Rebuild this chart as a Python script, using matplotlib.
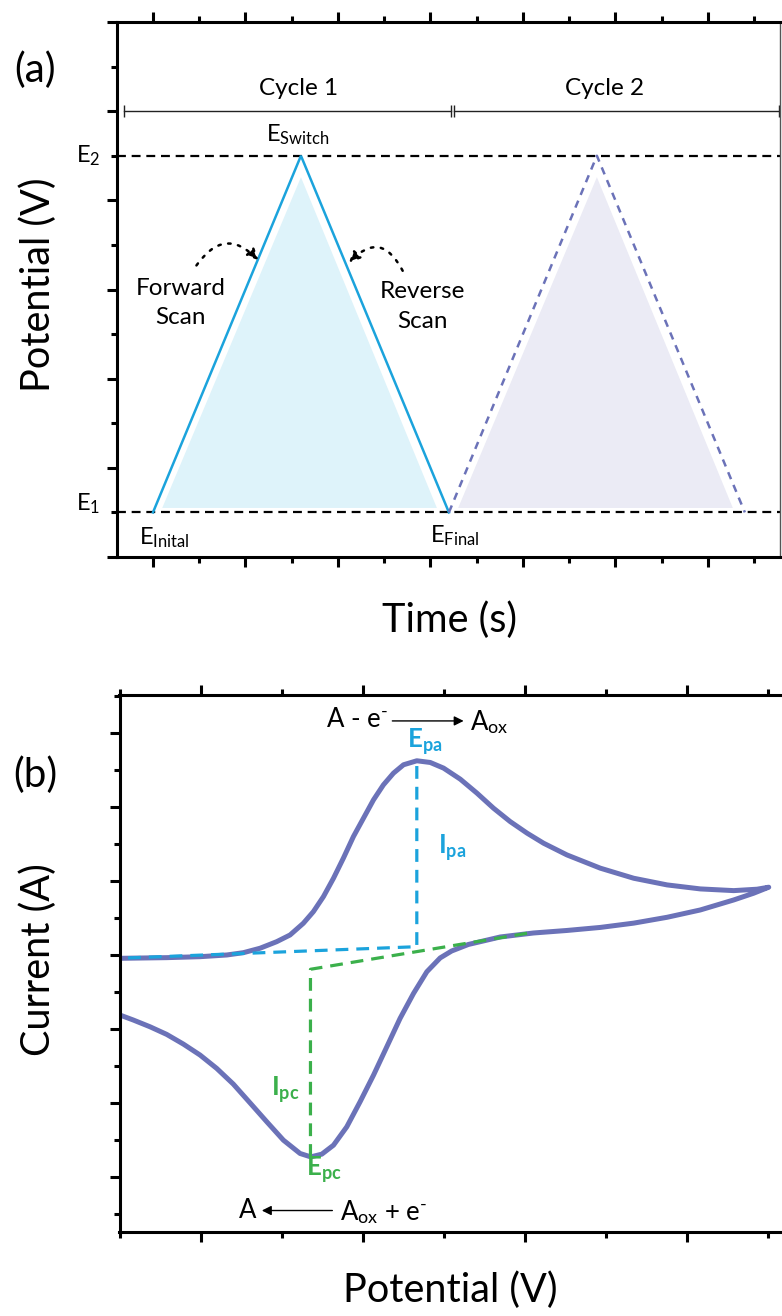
import numpy as np
import matplotlib
matplotlib.use("Agg")
import matplotlib.pyplot as plt
from matplotlib.ticker import MultipleLocator, NullFormatter

plt.rcParams['font.family'] = ['Lato', 'DejaVu Sans']
plt.rcParams['mathtext.fontset'] = 'custom'
plt.rcParams['mathtext.rm'] = 'Lato'
plt.rcParams['mathtext.it'] = 'Lato:italic'
plt.rcParams['mathtext.bf'] = 'Lato:bold'

# ---- (a) potential waveform ----
cycle_t = [0.0, 1.6, 3.2]          # cycle 1: E1 -> E2 -> E1
cycle2_t = [3.2, 4.8, 6.4]         # cycle 2
cycle_e = [0.5, 4.5, 0.5]
fill1_t = [0.1, 1.6, 3.07]
fill2_t = [3.3, 4.8, 6.27]
fill_e = [0.55, 4.26, 0.55]
E1, E2 = 0.5, 4.5

# ---- (b) cyclic voltammogram (forward then reverse branch) ----
fwd_v = [-0.5, -0.212, -0.006, 0.159, 0.261, 0.364, 0.467, 0.549, 0.631,
         0.693, 0.755, 0.817, 0.878, 0.94, 1.002, 1.064, 1.125, 1.187, 1.249,
         1.331, 1.414, 1.496, 1.599, 1.702, 1.804, 1.907, 2.011, 2.113, 2.257,
         2.463, 2.669, 2.875, 3.08, 3.286, 3.43, 3.502]
fwd_i = [0.955, 0.964, 0.977, 1.0, 1.031, 1.091, 1.18, 1.27, 1.428,
         1.585, 1.788, 2.036, 2.307, 2.599, 2.847, 3.095, 3.297, 3.455, 3.568,
         3.622, 3.599, 3.523, 3.374, 3.185, 2.982, 2.801, 2.645, 2.509, 2.351,
         2.172, 2.036, 1.946, 1.892, 1.869, 1.888, 1.915]
rev_v = [3.502, 3.409, 3.286, 3.08, 2.875, 2.669, 2.463, 2.257, 2.051, 1.846,
         1.649, 1.546, 1.475, 1.393, 1.311, 1.228, 1.146, 1.064, 0.981, 0.899,
         0.817, 0.745, 0.677, 0.611, 0.508, 0.406, 0.302, 0.199, 0.097,
         -0.006, -0.109, -0.212, -0.315, -0.418, -0.5]
rev_i = [1.915, 1.834, 1.743, 1.608, 1.509, 1.43, 1.372, 1.331, 1.297, 1.243,
         1.142, 1.054, 0.96, 0.774, 0.482, 0.145, -0.239, -0.622, -0.982, -1.32,
         -1.568, -1.689, -1.726, -1.68, -1.5, -1.253, -0.996, -0.743, -0.532,
         -0.351, -0.203, -0.072, 0.031, 0.122, 0.189]
epa_v, epa_i, ipa_base = 1.331, 3.622, 1.112
epc_v, epc_i, ipc_base = 0.675, -1.726, 0.807
anodic_base_v = [-0.45, epa_v]
anodic_base_i = [0.96, ipa_base]
cathodic_base_v = [epc_v, 2.011]
cathodic_base_i = [ipc_base, 1.293]

cyan = '#1ba3dc'
slate = '#6b72b8'
green = '#3bb04b'

fig = plt.figure(figsize=(7.82, 13.16), dpi=100)


def style_axes(ax):
    for s in ['left', 'top', 'bottom']:
        ax.spines[s].set_linewidth(2.2)
    ax.tick_params(which='both', direction='out', width=2.2,
                   top=True, bottom=True, left=True, right=False,
                   labelbottom=False, labelleft=False)
    ax.tick_params(which='major', length=7.5)
    ax.tick_params(which='minor', length=4)
    ax.xaxis.set_minor_formatter(NullFormatter())
    ax.yaxis.set_minor_formatter(NullFormatter())


# panel (a)
ax1 = fig.add_axes([117 / 782, 1 - 557 / 1316, 663 / 782, 535 / 1316])
style_axes(ax1)
ax1.spines['right'].set_linewidth(1.0)
ax1.spines['right'].set_color('#555555')
ax1.set_xlim(-0.389, 6.78)
ax1.set_ylim(0, 6)
ax1.xaxis.set_major_locator(MultipleLocator(1))
ax1.xaxis.set_minor_locator(MultipleLocator(0.5))
ax1.yaxis.set_major_locator(MultipleLocator(1))
ax1.yaxis.set_minor_locator(MultipleLocator(0.5))

ax1.fill(fill1_t, fill_e, color='#def3fa', lw=0)
ax1.fill(fill2_t, fill_e, color='#ebebf5', lw=0)
ax1.axhline(E2, color='k', lw=1.6, ls=(0, (4, 2.6)))
ax1.axhline(E1, color='k', lw=1.6, ls=(0, (4, 2.6)))
ax1.plot(cycle_t, cycle_e, color=cyan, lw=1.8, solid_joinstyle='miter')
ax1.plot(cycle2_t, cycle_e, color=slate, lw=1.8, ls=(0, (3, 2.5)))

# cycle brackets
for x0, x1, lab, xc in [(-0.31, 3.22, 'Cycle 1', 1.57), (3.26, 6.77, 'Cycle 2', 4.88)]:
    ax1.plot([x0, x1], [5.0, 5.0], color='#222222', lw=1.0,
             marker='|', ms=9, mew=1.0)
    ax1.text(xc, 5.25, lab, fontsize=17.5, ha='center', va='center')

ax1.text(1.57, 4.74, r'E$_{\mathrm{Switch}}$', fontsize=17, ha='center', va='center')
ax1.text(0.12, 0.22, r'E$_{\mathrm{Inital}}$', fontsize=17, ha='center', va='center')
ax1.text(3.26, 0.24, r'E$_{\mathrm{Final}}$', fontsize=17, ha='center', va='center')
ax1.text(-0.57, E2, r'E$_2$', fontsize=17, ha='right', va='center')
ax1.text(-0.57, E1 + 0.1, r'E$_1$', fontsize=17, ha='right', va='center')
ax1.text(0.3, 2.85, 'Forward\nScan', fontsize=17.5, ha='center', va='center',
         linespacing=1.5)
ax1.text(2.91, 2.81, 'Reverse\nScan', fontsize=17.5, ha='center', va='center',
         linespacing=1.5)

# dotted curved arrows pointing to each scan
ax1.annotate('', xy=(1.14, 3.33), xytext=(0.47, 3.27),
             arrowprops=dict(arrowstyle='-|>', connectionstyle='arc3,rad=-0.6',
                             color='k', lw=1.8, ls=(0, (1, 3)),
                             mutation_scale=16, shrinkA=0, shrinkB=0))
ax1.annotate('', xy=(2.12, 3.30), xytext=(2.7, 3.21),
             arrowprops=dict(arrowstyle='-|>', connectionstyle='arc3,rad=0.7',
                             color='k', lw=1.8, ls=(0, (1, 3)),
                             mutation_scale=16, shrinkA=0, shrinkB=0))

fig.text(35 / 782, 1 - 70 / 1316, '(a)', fontsize=29, ha='center', va='center')
fig.text(38 / 782, 1 - 285 / 1316, 'Potential (V)', fontsize=28.5,
         rotation=90, ha='center', va='center')
fig.text(450 / 782, 1 - 620 / 1316, 'Time (s)', fontsize=28.5, ha='center', va='center')

# panel (b)
ax2 = fig.add_axes([119.5 / 782, 1 - 1232 / 1316, 670 / 782, 537 / 1316])
style_axes(ax2)
ax2.spines['right'].set_visible(False)
ax2.set_xlim(-0.503, 3.63)
ax2.set_ylim(-2.74, 4.51)
ax2.xaxis.set_major_locator(MultipleLocator(1))
ax2.xaxis.set_minor_locator(MultipleLocator(0.5))
ax2.yaxis.set_major_locator(MultipleLocator(1))
ax2.yaxis.set_minor_locator(MultipleLocator(0.5))

ax2.plot(fwd_v + rev_v[1:], fwd_i + rev_i[1:], color=slate, lw=3.6,
         solid_joinstyle='round', zorder=2)
ax2.plot(anodic_base_v + [epa_v], anodic_base_i + [epa_i], color=cyan,
         lw=2.3, ls=(0, (4, 2.5)), zorder=3)
ax2.plot([epc_v] + cathodic_base_v, [epc_i] + cathodic_base_i, color=green,
         lw=2.3, ls=(0, (4, 2.5)), zorder=3)

ax2.text(epa_v + 0.05, epa_i + 0.26, r'$\mathbf{E_{pa}}$', color=cyan,
         fontsize=18.5, ha='center', va='center')
ax2.text(1.55, 2.45, r'$\mathbf{I_{pa}}$', color=cyan, fontsize=18.5,
         ha='center', va='center')
ax2.text(0.52, -0.82, r'$\mathbf{I_{pc}}$', color=green, fontsize=18.5,
         ha='center', va='center')
ax2.text(epc_v + 0.08, epc_i - 0.18, r'$\mathbf{E_{pc}}$', color=green,
         fontsize=18.5, ha='center', va='center')

ax2.text(1.15, 4.18, r'A - e$^{\text{-}}$', fontsize=18.5, ha='right', va='center')
ax2.annotate('', xy=(1.62, 4.16), xytext=(1.18, 4.16),
             arrowprops=dict(arrowstyle='-|>', color='k', lw=1.0,
                             mutation_scale=14, shrinkA=0, shrinkB=0))
ax2.text(1.66, 4.14, r'A$_{\mathrm{ox}}$', fontsize=18.5, ha='left', va='center')

ax2.text(0.285, -2.45, 'A', fontsize=18.5, ha='center', va='center')
ax2.annotate('', xy=(0.375, -2.45), xytext=(0.81, -2.45),
             arrowprops=dict(arrowstyle='-|>', color='k', lw=1.0,
                             mutation_scale=14, shrinkA=0, shrinkB=0))
ax2.text(0.86, -2.47, r'A$_{\mathrm{ox}}$ + e$^{\text{-}}$', fontsize=18.5,
         ha='left', va='center')

fig.text(35 / 782, 1 - 775 / 1316, '(b)', fontsize=29, ha='center', va='center')
fig.text(38 / 782, 1 - 960 / 1316, 'Current (A)', fontsize=28.5,
         rotation=90, ha='center', va='center')
fig.text(450 / 782, 1 - 1290 / 1316, 'Potential (V)', fontsize=28.5,
         ha='center', va='center')

fig.savefig('out.png', dpi=100)
